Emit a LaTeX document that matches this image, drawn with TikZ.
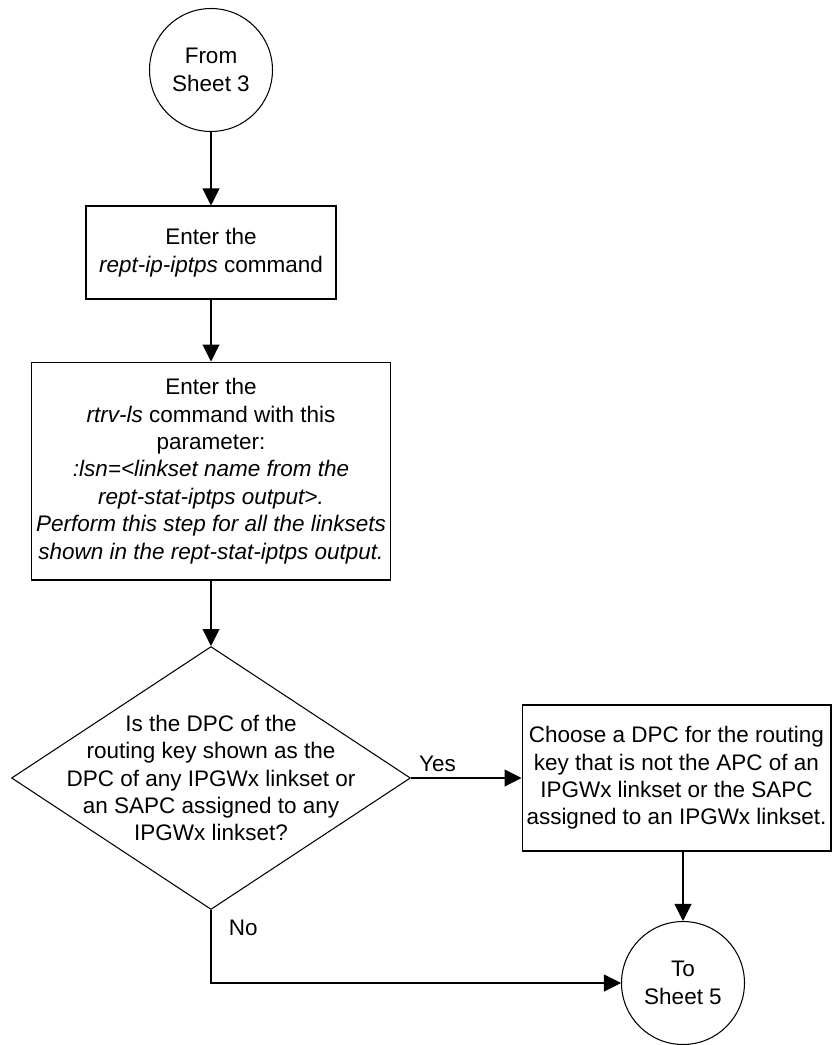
\documentclass[tikz,border=0pt]{standalone}
\usepackage{fontspec}
\setmainfont{Liberation Sans}
\usetikzlibrary{arrows.meta,positioning,shapes.geometric}
\tikzset{
  flowfont/.style={font=\fontsize{12.8}{15.6}\selectfont},
  sheetref/.style={draw, circle, flowfont, align=center,
                   minimum size=2.46cm, inner sep=0pt},
  cmdbox/.style={draw, rectangle, flowfont, align=center, inner sep=2pt},
  decision/.style={draw, diamond, minimum width=7.98cm, minimum height=5.26cm, inner sep=0pt},
  flowline/.style={line width=0.6pt, -{Triangle[length=0.34cm, width=0.34cm]}},
  flowlabel/.style={flowfont},
}

\begin{document}
\begin{tikzpicture}[x=0.02cm, y=-0.02cm, line width=0.6pt]
\useasboundingbox (0,0) rectangle (833,1045);

% Entry from sheet 3
\node[sheetref] (from3) at (211, 70) {From\\Sheet 3};

% Commands
\node[cmdbox, minimum width=5cm, minimum height=1.86cm] (iptps) at (211, 252.5) {%
Enter the\\
\textit{rept-ip-iptps} command};

\node[cmdbox, minimum width=7.2cm, minimum height=4.36cm] (rtrvls) at (211, 471) {%
Enter the\\
\textit{rtrv-ls} command with this\\
parameter:\\
\textit{:lsn=<linkset name from the}\\
\textit{rept-stat-iptps output>.}\\
\textit{Perform this step for all the linksets}\\
\textit{shown in the rept-stat-iptps output.}};

% Decision: DPC already used by an IPGWx linkset?
\node[decision] (dpcq) at (211, 778) {};
\node[flowfont, align=center] (dpcqtext) at (dpcq.center) {%
Is the DPC of the\\
routing key shown as the\\
DPC of any IPGWx linkset or\\
an SAPC assigned to any\\
IPGWx linkset?};

\node[cmdbox, minimum width=6.18cm, minimum height=2.92cm] (newdpc) at (676.5, 778) {%
Choose a DPC for the routing\\
key that is not the APC of an\\
IPGWx linkset or the SAPC\\
assigned to an IPGWx linkset.};

% Exit to sheet 5
\node[sheetref] (to5) at (683, 983) {To\\Sheet 5};

% Connectors
\draw[flowline] (from3) -- (iptps);
\draw[flowline] (iptps) -- (rtrvls);
\draw[flowline] (rtrvls) -- (dpcq);
\draw[flowline] (dpcq.east) -- node[flowlabel, above, pos=0.24] (yes) {Yes} (newdpc.west);
\draw[flowline] (to5 |- newdpc.south) -- (to5);
\draw[flowline] (dpcq.south) |- node[flowlabel, right=0.23cm, pos=0.12] (no) {No} (to5);
\end{tikzpicture}
\end{document}
